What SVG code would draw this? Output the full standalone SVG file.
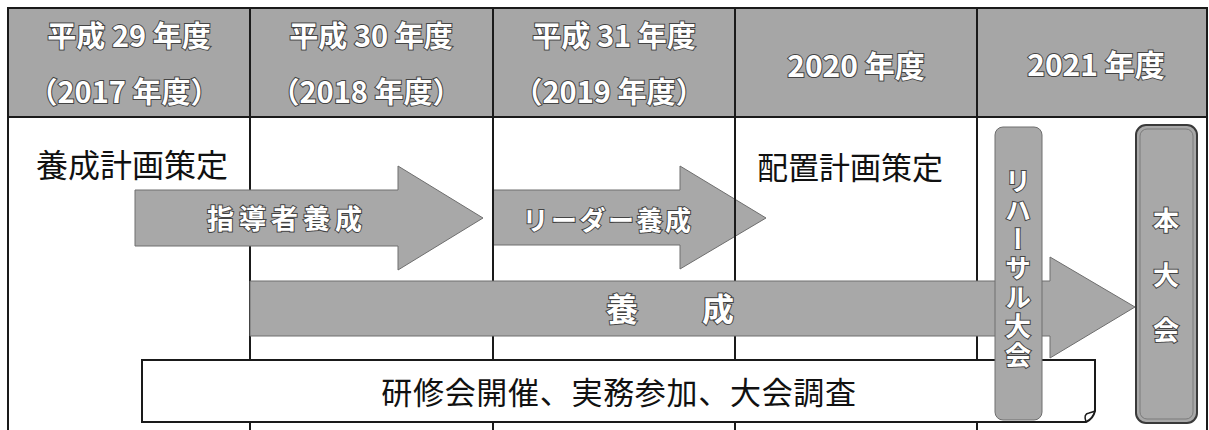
<svg xmlns="http://www.w3.org/2000/svg" width="1209" height="430" viewBox="0 0 1209 430">
<style>
  .hdr { fill: #a6a6a6; }
  .grid { stroke: #1a1a1a; stroke-width: 2; fill: none; }
  .shape { fill: #a8a8a8; stroke: #6e6e6e; stroke-width: 1; }
  .wt { font-family: "Noto Sans CJK JP", "Noto Sans", sans-serif; font-weight: bold; fill: #ffffff; stroke: #444444; stroke-width: 2; paint-order: stroke; dominant-baseline: central; text-anchor: middle; }
  .bt { font-family: "Noto Sans CJK JP", "Noto Sans", sans-serif; fill: #111111; dominant-baseline: central; }
</style>
<rect x="0" y="0" width="1209" height="430" fill="#ffffff"/>

<g id="header">
  <rect class="hdr" x="8" y="8" width="1199" height="109"/>
  <text class="wt" x="129" y="34" font-size="29">平成 29 年度</text>
  <text class="wt" x="124" y="90" font-size="29">（2017 年度）</text>
  <text class="wt" x="371" y="34" font-size="29">平成 30 年度</text>
  <text class="wt" x="366" y="90" font-size="29">（2018 年度）</text>
  <text class="wt" x="614" y="34" font-size="29">平成 31 年度</text>
  <text class="wt" x="609" y="90" font-size="29">（2019 年度）</text>
  <text class="wt" x="856" y="64" font-size="30">2020 年度</text>
  <text class="wt" x="1096" y="63" font-size="30">2021 年度</text>
</g>

<g id="arrow-leader">
  <polygon class="shape" points="493,190 680,190 680,166 766,218 680,269 680,245 493,245"/>
  <text class="wt" x="608" y="218" font-size="26" letter-spacing="2.5">リーダー養成</text>
</g>

<g id="grid">
  <rect class="grid" x="8" y="8" width="1199" height="430"/>
  <line class="grid" x1="8" y1="117" x2="1207" y2="117"/>
  <line class="grid" x1="250" y1="8" x2="250" y2="430"/>
  <line class="grid" x1="493" y1="8" x2="493" y2="430"/>
  <line class="grid" x1="735" y1="8" x2="735" y2="430"/>
  <line class="grid" x1="977" y1="8" x2="977" y2="430"/>
</g>

<g id="plan1">
  <text class="bt" x="36" y="163" font-size="32">養成計画策定</text>
</g>
<g id="plan2">
  <text class="bt" x="850" y="165" font-size="31" text-anchor="middle">配置計画策定</text>
</g>

<g id="arrow-instructor">
  <polygon class="shape" points="135,190 398,190 398,166 483,218 398,270 398,246 135,246"/>
  <text class="wt" x="287" y="217" font-size="27" letter-spacing="5">指導者養成</text>
</g>

<g id="arrow-training">
  <polygon class="shape" points="250,281 1050,281 1050,257 1135,307 1050,358 1050,336 250,336"/>
  <text class="wt" x="670" y="307" font-size="32">養　　成</text>
</g>

<g id="activities">
  <path d="M142,360 H1095 V411 Q1093,419 1086,422 H142 Z" fill="#ffffff" stroke="#1a1a1a" stroke-width="2"/>
  <path d="M1086,422 Q1083,414 1089,413 Q1093,412 1095,411" fill="none" stroke="#1a1a1a" stroke-width="1.5"/>
  <text class="bt" x="619" y="390" font-size="31" letter-spacing="0.7" text-anchor="middle">研修会開催、実務参加、大会調査</text>
</g>

<g id="rehearsal">
  <rect class="shape" x="995" y="127" width="47" height="293" rx="8"/>
  <text class="wt" x="1018" y="270" font-size="26" letter-spacing="3" style="writing-mode: vertical-rl;">リハーサル大会</text>
</g>

<g id="main-event">
  <rect x="1136" y="125" width="61" height="298" rx="10" fill="#a8a8a8" stroke="#3a3a3a" stroke-width="2"/>
  <rect x="1140" y="129" width="53" height="290" rx="7" fill="none" stroke="#7a7a7a" stroke-width="1"/>
  <text class="wt" x="1166" y="218" font-size="26">本</text>
  <text class="wt" x="1166" y="273" font-size="26">大</text>
  <text class="wt" x="1166" y="328" font-size="26">会</text>
</g>
</svg>
